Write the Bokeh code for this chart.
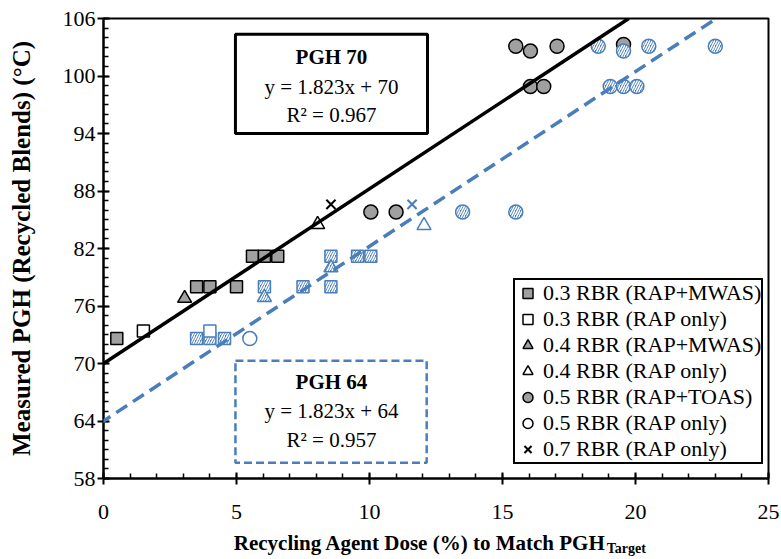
from bokeh.plotting import figure
from bokeh.layouts import column
from bokeh.models import (FixedTicker, Label, BoxAnnotation, Slope, Legend, LegendItem)
from bokeh.embed import file_html
from bokeh.resources import INLINE

NAN = float("nan")

# ---------------- data ----------------
# PGH 70 series (black / grey markers)
sq_mwas_70_x = [0.5, 3.5, 4.0, 5.0, 5.6, 6.05, 6.55]
sq_mwas_70_y = [72.6, 78.0, 78.0, 78.0, 81.2, 81.2, 81.2]
sq_rap_70_x = [1.5]
sq_rap_70_y = [73.4]
tri_mwas_70_x = [3.05]
tri_mwas_70_y = [76.8]
tri_rap_70_x = [8.05]
tri_rap_70_y = [84.5]
ci_toas_70_x = [10.05, 11.0, 15.5, 16.05, 17.05, 16.05, 16.55, 19.55]
ci_toas_70_y = [85.8, 85.8, 103.1, 102.6, 103.1, 98.9, 98.9, 103.3]
ci_rap_70_x = [NAN]   # no visible black point (legend only)
ci_rap_70_y = [NAN]
x_rap_70_x = [8.55]
x_rap_70_y = [86.6]

# PGH 64 series (blue markers)
sq_mwas_64_x = [3.5, 4.0, 4.55, 6.05, 7.5, 8.55, 8.55, 9.55, 10.05]
sq_mwas_64_y = [72.6, 72.6, 72.6, 78.0, 78.0, 78.0, 81.2, 81.2, 81.2]
sq_rap_64_x = [4.0]
sq_rap_64_y = [73.4]
tri_mwas_64_x = [6.05, 8.55]
tri_mwas_64_y = [76.9, 80.0]
tri_rap_64_x = [12.05]
tri_rap_64_y = [84.4]
ci_toas_64_x = [13.5, 15.5, 18.6, 19.55, 20.5, 23.0, 19.05, 19.55, 20.05]
ci_toas_64_y = [85.8, 85.8, 103.1, 102.6, 103.1, 103.1, 98.9, 98.9, 98.9]
ci_rap_64_x = [5.5]
ci_rap_64_y = [72.6]
x_rap_64_x = [11.6]
x_rap_64_y = [86.6]

legend_labels = ["0.3 RBR (RAP+MWAS)", "0.3 RBR (RAP only)", "0.4 RBR (RAP+MWAS)",
                 "0.4 RBR (RAP only)", "0.5 RBR (RAP+TOAS)", "0.5 RBR (RAP only)",
                 "0.7 RBR (RAP only)"]

fit_slope = [1.823, 1.823]
fit_intercept = [70, 64]
fit_names = ["PGH 70", "PGH 64"]
fit_eq = ["y = 1.823x + 70", "y = 1.823x + 64"]
fit_r2 = ["R\u00b2 = 0.967", "R\u00b2 = 0.957"]

x_title = "Recycling Agent Dose (%) to Match PGH"
x_title_sub = "Target"
y_title = "Measured PGH (Recycled Blends) (\u00b0C)"

x_ticks = [0, 5, 10, 15, 20, 25]
y_ticks = [58, 64, 70, 76, 82, 88, 94, 100, 106]

# ---------------- style ----------------
FONT = "Liberation Serif"
BLACK = "black"
GREY = "#a0a0a0"
BLUE = "#4a7ebb"

MAIN_H = 532
p = figure(width=781, height=MAIN_H, output_backend="svg", toolbar_location=None,
           x_range=(0, 25), y_range=(58, 106),
           frame_width=665, frame_height=460,
           min_border_left=103, min_border_right=13, min_border_top=18,
           min_border_bottom=MAIN_H - 478)
p.background_fill_color = "white"
p.border_fill_color = "white"
p.outline_line_color = "black"
p.outline_line_alpha = 1
p.outline_line_width = 2
p.xgrid.visible = False
p.ygrid.visible = False

p.xaxis.ticker = FixedTicker(ticks=x_ticks, minor_ticks=list(range(0, 26)))
p.yaxis.ticker = FixedTicker(ticks=y_ticks, minor_ticks=list(range(58, 107)))
for ax in (p.xaxis[0], p.yaxis[0]):
    ax.axis_line_color = "black"
    ax.axis_line_width = 2
    ax.major_tick_line_color = "black"
    ax.major_tick_line_width = 2
    ax.major_tick_in = 6
    ax.major_tick_out = 6
    ax.minor_tick_line_color = "black"
    ax.minor_tick_line_width = 1.5
    ax.minor_tick_in = 5
    ax.minor_tick_out = 0
    ax.major_label_text_font = FONT
    ax.major_label_text_font_size = "22px"
    ax.major_label_text_color = "black"
    ax.axis_label_text_font = FONT
    ax.axis_label_text_font_style = "bold"
    ax.axis_label_text_color = "black"
p.yaxis.major_label_standoff = 2
p.xaxis.major_label_standoff = 20
p.xaxis.axis_label_standoff = 0
p.yaxis.axis_label = y_title
p.yaxis.axis_label_text_font_size = "25px"
p.yaxis.axis_label_standoff = 25

# regression lines
p.add_layout(Slope(gradient=fit_slope[0], y_intercept=fit_intercept[0],
                   line_color=BLACK, line_width=3.5))
p.add_layout(Slope(gradient=fit_slope[1], y_intercept=fit_intercept[1],
                   line_color=BLUE, line_width=3.5, line_dash="13 7"))

# equation boxes
p.add_layout(BoxAnnotation(left=4.96, right=12.18, top=104.35, bottom=94.0,
                           fill_alpha=0, line_color="black", line_alpha=1, line_width=3))
p.add_layout(BoxAnnotation(left=4.96, right=12.15, top=70.3, bottom=59.65,
                           fill_alpha=0, line_color=BLUE, line_alpha=1, line_width=2.5,
                           line_dash="8 4"))
box_cx = 8.57
for i, (ty, my, by) in enumerate([(102.0, 98.9, 95.9), (68.1, 65.0, 62.0)]):
    p.add_layout(Label(x=box_cx, y=ty, text=fit_names[i], text_align="center",
                       text_baseline="middle", text_font=FONT, text_font_size="21px",
                       text_font_style="bold", text_color="black"))
    p.add_layout(Label(x=box_cx, y=my, text=fit_eq[i], text_align="center",
                       text_baseline="middle", text_font=FONT, text_font_size="21px",
                       text_color="black"))
    p.add_layout(Label(x=box_cx, y=by, text=fit_r2[i], text_align="center",
                       text_baseline="middle", text_font=FONT, text_font_size="21px",
                       text_color="black"))

# black (PGH 70) series
r_sq_mwas = p.scatter(sq_mwas_70_x, sq_mwas_70_y, marker="square", size=12,
                      fill_color=GREY, line_color=BLACK, line_width=1.5)
r_sq_rap = p.scatter(sq_rap_70_x, sq_rap_70_y, marker="square", size=12,
                     fill_color="white", line_color=BLACK, line_width=1.5)
r_tri_mwas = p.scatter(tri_mwas_70_x, tri_mwas_70_y, marker="triangle", size=14,
                       fill_color=GREY, line_color=BLACK, line_width=1.5)
r_tri_rap = p.scatter(tri_rap_70_x, tri_rap_70_y, marker="triangle", size=14,
                      fill_color="white", line_color=BLACK, line_width=1.5)
r_ci_toas = p.scatter(ci_toas_70_x, ci_toas_70_y, marker="circle", size=14,
                      fill_color=GREY, line_color=BLACK, line_width=1.5)
r_ci_rap = p.scatter(ci_rap_70_x, ci_rap_70_y, marker="circle", size=14,
                     fill_color="white", line_color=BLACK, line_width=1.5)
r_x_rap = p.scatter(x_rap_70_x, x_rap_70_y, marker="x", size=13,
                    line_color=BLACK, line_width=2)

# blue (PGH 64) series
hatch = dict(hatch_pattern="/", hatch_color="white", hatch_weight=1.5, hatch_scale=5)
p.scatter(sq_mwas_64_x, sq_mwas_64_y, marker="square", size=12,
          fill_color=BLUE, line_color=BLUE, line_width=1.5, **hatch)
p.scatter(sq_rap_64_x, sq_rap_64_y, marker="square", size=12,
          fill_color="white", line_color=BLUE, line_width=1.5)
p.scatter(tri_mwas_64_x, tri_mwas_64_y, marker="triangle", size=14,
          fill_color=BLUE, line_color=BLUE, line_width=1.5, **hatch)
p.scatter(tri_rap_64_x, tri_rap_64_y, marker="triangle", size=14,
          fill_color="white", line_color=BLUE, line_width=1.5)
p.scatter(ci_toas_64_x, ci_toas_64_y, marker="circle", size=14,
          fill_color=BLUE, line_color=BLUE, line_width=1.5, **hatch)
p.scatter(ci_rap_64_x, ci_rap_64_y, marker="circle", size=14,
          fill_color="white", line_color=BLUE, line_width=1.5)
p.scatter(x_rap_64_x, x_rap_64_y, marker="x", size=13, line_color=BLUE, line_width=2)

renderers = [r_sq_mwas, r_sq_rap, r_tri_mwas, r_tri_rap, r_ci_toas, r_ci_rap, r_x_rap]
legend = Legend(items=[LegendItem(label=l, renderers=[r]) for l, r in zip(legend_labels, renderers)],
                location=(410, 14), orientation="vertical",
                label_text_font=FONT, label_text_font_size="22px", label_text_color="black",
                border_line_color="black", border_line_alpha=1, border_line_width=2,
                background_fill_alpha=1,
                padding=0, spacing=0, margin=0, label_height=26, glyph_height=26,
                glyph_width=25, label_standoff=3)
p.add_layout(legend)

# ---------------- x-axis title strip (title with subscript) ----------------
STRIP_H = 559 - MAIN_H
p2 = figure(width=781, height=STRIP_H, output_backend="svg", toolbar_location=None,
            x_range=(0, 781), y_range=(0, STRIP_H),
            min_border_left=0, min_border_right=0, min_border_top=0, min_border_bottom=0)
p2.axis.visible = False
p2.xgrid.visible = False
p2.ygrid.visible = False
p2.outline_line_color = None
p2.background_fill_color = "white"
p2.border_fill_color = "white"
p2.add_layout(Label(x=590, y=17, text=x_title, text_align="right",
                    text_baseline="middle", text_font=FONT, text_font_size="21px",
                    text_font_style="bold", text_color="black"))
p2.add_layout(Label(x=591, y=11, text=x_title_sub, text_align="left",
                    text_baseline="middle", text_font=FONT, text_font_size="14px",
                    text_font_style="bold", text_color="black"))

layout = column(p, p2, spacing=0)
open("out.html", "w").write(file_html(layout, INLINE))
